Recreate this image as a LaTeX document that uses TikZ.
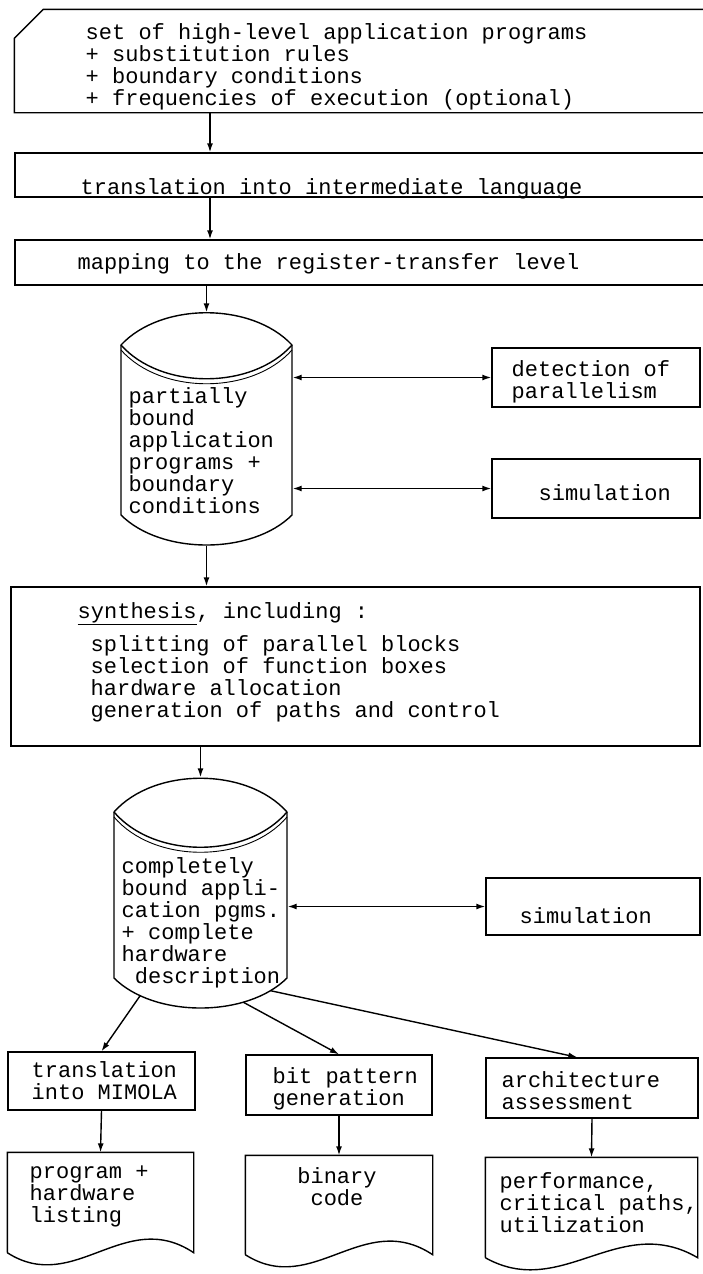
\documentclass[tikz,border=0pt]{standalone}
\usepackage{fontspec}
\setmonofont{Liberation Mono}
\usetikzlibrary{arrows.meta,calc,fit}

% strut that fixes the height of the first text line
\newcommand\lh{\rule{0pt}{17pt}}

% flowchart "document" symbol with a wavy lower edge, drawn round a fitted node
\newcommand\docoutline[1]{%
  \draw (#1.south west) -- (#1.north west) -- (#1.north east) -- (#1.south east)
    .. controls ($(#1.south west)!0.63!(#1.south east)+(0,-46)$)
    and ($(#1.south west)!0.36!(#1.south east)+(0,43)$) .. (#1.south west);}

\begin{document}
\begin{tikzpicture}[x=1pt, y=-1pt, line width=1.4pt,
  >={Latex[length=9pt,width=6pt]},
  flowarrow/.style={->},
  twoway/.style={<->},
  boxframe/.style={draw, inner sep=0pt},
  region/.style={inner sep=0pt},
  txt/.style={font=\ttfamily\fontsize{22}{22}\selectfont, align=left,
              anchor=north west, inner sep=0pt},
]
\useasboundingbox (0,0) rectangle (702,1274);

% ---- input specification (card with cut corner) ----
\node[region, fit={(15,10) (712,112)}] (src) {};
\draw (src.north east) -- ($(src.north west)+(29,0)$) -- ($(src.north west)+(0,29)$)
      -- (src.south west) -- (src.south east);
\node[txt] (srctext) at (85,22) {\lh set of high-level application programs\\
+ substitution rules\\+ boundary conditions\\+ frequencies of execution (optional)};

% ---- front-end steps ----
\node[boxframe, fit={(15,153) (712,197)}] (trans) {};
\node[txt] (transtext) at (80,177) {\lh translation into intermediate language};

\node[boxframe, fit={(15,240) (712,285)}] (map) {};
\node[txt] (maptext) at (77,252) {\lh mapping to the register-transfer level};

\coordinate (spine) at (210,0);
\draw[flowarrow] (src.south -| spine) -- (trans.north -| spine);
\draw[flowarrow] (trans.south -| spine) -- (map.north -| spine);

% ---- first data store ----
\node[region, fit={(121,313) (292,545)}] (store1) {};
\draw (121,515) -- (121,345) .. controls (161,302) and (252,302) .. (292,345)
      -- (292,515) .. controls (252,555) and (161,555) .. (121,515) -- cycle;
\draw (121,345) .. controls (161,390) and (252,390) .. (292,345);
\draw[line width=0.9pt] (121,350) .. controls (161,395) and (252,395) .. (292,350);
\node[txt] (store1text) at (128,386) {\lh partially\\bound\\application\\programs +\\boundary\\conditions};

\node[boxframe, fit={(492,348) (700,407)}] (detect) {};
\node[txt] (detecttext) at (511,359) {\lh detection of\\parallelism};

\node[boxframe, fit={(492,459) (700,518)}] (sim1) {};
\node[txt] (sim1text) at (538,483) {\lh simulation};

\draw[flowarrow] (map.south -| store1.north) -- (store1.north);
\draw[twoway] (detect.west -| store1.east) -- (detect.west);
\draw[twoway] (sim1.west -| store1.east) -- (sim1.west);

% ---- synthesis ----
\node[boxframe, fit={(11,587) (700,746)}] (synth) {};
\node[txt] (synthtitle) at (77,601) {\lh\underline{synthesis}, including :};
\node[txt] (synthlist) at (90,634) {\lh splitting of parallel blocks\\
selection of function boxes\\hardware allocation\\generation of paths and control};

\draw[flowarrow] (store1.south) -- (store1.south |- synth.north);

% ---- second data store ----
\node[region, fit={(114,778) (287,1008)}] (store2) {};
\draw (114,978) -- (114,812) .. controls (154,767) and (247,767) .. (287,812)
      -- (287,978) .. controls (247,1018) and (154,1018) ..
      coordinate[pos=0.12] (out3) coordinate[pos=0.28] (out2) coordinate[pos=0.82] (out1)
      (114,978) -- cycle;
\draw (114,812) .. controls (154,859) and (247,859) .. (287,812);
\draw[line width=0.9pt] (114,817) .. controls (154,864) and (247,864) .. (287,817);
\node[txt] (store2text) at (121,856) {\lh completely\\bound appli-\\cation pgms.\\+ complete\\hardware\\\phantom{x}description};

\node[boxframe, fit={(486,878) (700,935)}] (sim2) {};
\node[txt] (sim2text) at (519,906) {\lh simulation};

\draw[flowarrow] (synth.south -| store2.north) -- (store2.north);
\draw[twoway] (sim2.west -| store2.east) -- (sim2.west);

% ---- back-end tools ----
\node[boxframe, fit={(8,1052) (195,1110)}] (mimola) {};
\node[txt] (mimolatext) at (31,1060) {\lh translation\\into MIMOLA};

\node[boxframe, fit={(246,1055) (432,1115)}] (bits) {};
\node[txt] (bitstext) at (272,1066) {\lh bit pattern\\generation};

\node[boxframe, fit={(486,1058) (698,1118)}] (assess) {};
\node[txt] (assesstext) at (501,1070) {\lh architecture\\assessment};

\draw[flowarrow] (out1) -- (mimola.north);
\draw[flowarrow] (out2) -- (bits.north);
\draw[flowarrow] (out3) -- ($(assess.north west)+(92,0)$);

% ---- output documents ----
\node[region, fit={(8,1153) (193,1252)}] (listing) {};
\docoutline{listing}
\node[txt] (listingtext) at (29,1161) {\lh program +\\hardware\\listing};

\node[region, fit={(246,1156) (432,1254)}] (binary) {};
\docoutline{binary}
\node[txt, align=center, anchor=north] (binarytext) at (337,1166) {\lh binary\\code};

\node[region, fit={(486,1158) (697,1257)}] (report) {};
\docoutline{report}
\node[txt] (reporttext) at (499,1171) {\lh performance,\\critical paths,\\utilization};

\draw[flowarrow] (mimola.south) -- (listing.north);
\draw[flowarrow] (bits.south) -- (binary.north);
\draw[flowarrow] (assess.south) -- (report.north);
\end{tikzpicture}
\end{document}
